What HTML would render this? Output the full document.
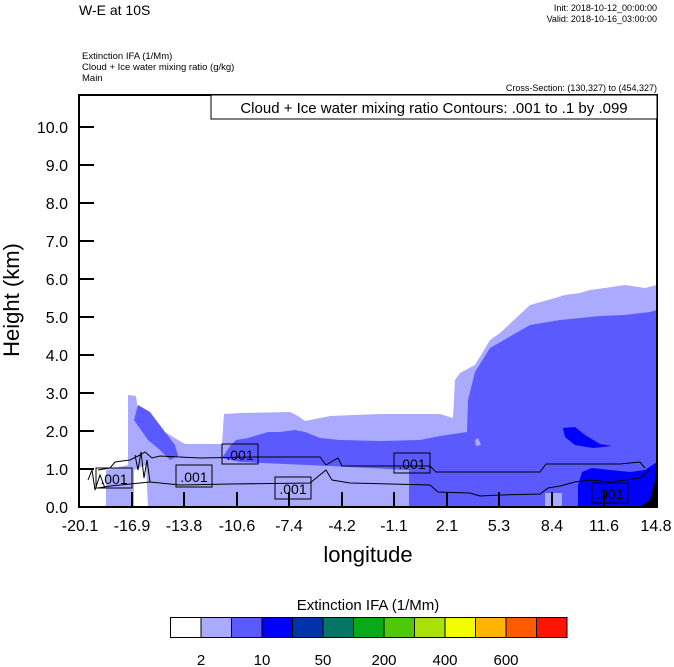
<!DOCTYPE html>
<html><head><style>
body{margin:0;background:#fff;}
svg{display:block;font-family:"Liberation Sans",sans-serif;}
</style></head><body>
<svg width="674" height="667" viewBox="0 0 674 667" xmlns="http://www.w3.org/2000/svg">
<text x="79" y="15" font-size="14">W-E at 10S</text>
<text x="657" y="11" font-size="9" text-anchor="end">Init: 2018-10-12_00:00:00</text>
<text x="657" y="22" font-size="9" text-anchor="end">Valid: 2018-10-16_03:00:00</text>
<text x="82" y="59" font-size="9.5">Extinction IFA   (1/Mm)</text>
<text x="82" y="70" font-size="9.5">Cloud + Ice water mixing ratio   (g/kg)</text>
<text x="82" y="81" font-size="9.5">Main</text>
<text x="657" y="91" font-size="9" text-anchor="end">Cross-Section: (130,327) to (454,327)</text>

<path fill="#aaaaff" d="M106,507 L106,470 L128,465 L128,395 L136,396 L138,410 L150,425 L165,432 L178,440 L185,444 L222,444 L224,414 L240,413 L290,412 L298,416 L305,421 L330,416 L380,414 L440,414 L453,418 L455,380 L460,373 L475,365 L490,340 L500,333 L530,305 L548,300 L565,295 L580,293 L590,290 L605,288 L625,285 L645,288 L657,285 L657,507 Z"/>
<path fill="#fff" d="M134,507 L134,470 L146,465 L148,507 Z"/>
<path fill="#5a5aff" d="M134,420 L138,405 L150,412 L162,428 L175,445 L178,456 L170,460 L160,450 L148,440 Z"/>
<path fill="#5a5aff" d="M222,458 L230,446 L236,440 L248,438 L268,432 L280,432 L295,430 L305,432 L320,438 L340,440 L380,441 L420,440 L440,436 L467,432 L468,400 L475,372 L490,348 L530,325 L560,320 L600,316 L625,315 L650,312 L657,310 L657,507 L409,507 L409,470 L330,466 L240,462 Z"/>
<path fill="#aaaaff" d="M475,440 L478,438 L481,445 L476,446 Z"/>
<rect x="545" y="493" width="17" height="14" fill="#aaaaff"/>
<path fill="#0000ff" d="M563,428 L575,427 L585,435 L600,444 L612,446 L593,448 L575,445 L565,437 Z"/>
<path fill="#0000ff" d="M578,485 L582,472 L592,468 L610,470 L630,472 L645,470 L657,462 L657,507 L578,507 Z"/>
<path fill="#000" d="M640,507 L650,500 L655,480 L657,470 L657,507 Z"/>
<g fill="none" stroke="#000" stroke-width="1">
<path d="M98,470 L110,468 L115,462 L130,460 L140,455 L145,452 L152,458 L160,456 L200,458 L255,457 L320,457 L326,465 L338,458 L342,466 L430,466 L436,472 L540,472 L546,464 L620,464 L640,462 L645,468"/>
<path d="M98,488 L110,486 L130,484 L150,482 L180,485 L230,484 L310,483 L326,470 L332,480 L350,483 L430,485 L438,492 L470,493 L480,496 L500,495 L540,494 L548,488 L560,486 L575,482 L590,480 L610,482 L640,478 L650,470"/>
<path d="M88,480 L92,470 L95,490 L100,475 L105,488 M135,455 L138,470 L141,452 L144,478 L147,460 L150,482"/>
</g>
<g font-size="14" text-anchor="middle">
<rect x="96" y="468" width="36" height="20" fill="none" stroke="#000"/><text x="114" y="484">.001</text>
<rect x="176" y="465" width="36" height="22" fill="none" stroke="#000"/><text x="194" y="482">.001</text>
<rect x="222" y="444" width="36" height="20" fill="none" stroke="#000"/><text x="240" y="460">.001</text>
<rect x="275" y="477" width="36" height="22" fill="none" stroke="#000"/><text x="293" y="494">.001</text>
<rect x="394" y="453" width="36" height="20" fill="none" stroke="#000"/><text x="412" y="469">.001</text>
<rect x="592" y="483" width="36" height="20" fill="none" stroke="#000"/><text x="610" y="499">.001</text>
</g>
<rect x="79" y="95" width="578" height="412" fill="none" stroke="#000" stroke-width="2"/>
<rect x="211" y="95" width="446" height="24" fill="#fff" stroke="#000" stroke-width="1"/>
<text x="434" y="113" font-size="15" text-anchor="middle">Cloud + Ice water mixing ratio Contours: .001 to .1 by .099</text>
<g stroke="#000" stroke-width="2">
<line x1="79" y1="507" x2="94" y2="507"/><line x1="79" y1="469" x2="94" y2="469"/><line x1="79" y1="431" x2="94" y2="431"/><line x1="79" y1="393" x2="94" y2="393"/><line x1="79" y1="355" x2="94" y2="355"/><line x1="79" y1="317" x2="94" y2="317"/><line x1="79" y1="279" x2="94" y2="279"/><line x1="79" y1="241" x2="94" y2="241"/><line x1="79" y1="203" x2="94" y2="203"/><line x1="79" y1="165" x2="94" y2="165"/><line x1="79" y1="127" x2="94" y2="127"/>
<line x1="132" y1="507" x2="132" y2="492"/><line x1="184" y1="507" x2="184" y2="492"/><line x1="237" y1="507" x2="237" y2="492"/><line x1="289" y1="507" x2="289" y2="492"/><line x1="342" y1="507" x2="342" y2="492"/><line x1="394" y1="507" x2="394" y2="492"/><line x1="447" y1="507" x2="447" y2="492"/><line x1="499" y1="507" x2="499" y2="492"/><line x1="552" y1="507" x2="552" y2="492"/><line x1="604" y1="507" x2="604" y2="492"/>
</g>
<g font-size="16" text-anchor="end">
<text x="68" y="513">0.0</text><text x="68" y="475">1.0</text><text x="68" y="437">2.0</text><text x="68" y="399">3.0</text><text x="68" y="361">4.0</text><text x="68" y="323">5.0</text><text x="68" y="285">6.0</text><text x="68" y="247">7.0</text><text x="68" y="209">8.0</text><text x="68" y="171">9.0</text><text x="68" y="133">10.0</text>
</g>
<g font-size="16" text-anchor="middle">
<text x="80" y="531">-20.1</text><text x="132" y="531">-16.9</text><text x="184" y="531">-13.8</text><text x="237" y="531">-10.6</text><text x="289" y="531">-7.4</text><text x="342" y="531">-4.2</text><text x="394" y="531">-1.1</text><text x="447" y="531">2.1</text><text x="499" y="531">5.3</text><text x="552" y="531">8.4</text><text x="604" y="531">11.6</text><text x="656" y="531">14.8</text>
</g>
<text x="368" y="562" font-size="22" text-anchor="middle">longitude</text>
<text x="0" y="0" font-size="22" text-anchor="middle" transform="translate(19,300) rotate(-90)">Height (km)</text>
<text x="368" y="610" font-size="15" text-anchor="middle">Extinction IFA  (1/Mm)</text>
<g stroke="#000" stroke-width="1">
<rect x="170.5" y="617.5" width="30.5" height="20" fill="#ffffff"/>
<rect x="201" y="617.5" width="30.5" height="20" fill="#aaaaff"/>
<rect x="231.5" y="617.5" width="30.5" height="20" fill="#5a5aff"/>
<rect x="262" y="617.5" width="30.5" height="20" fill="#0000ff"/>
<rect x="292.5" y="617.5" width="30.5" height="20" fill="#0033aa"/>
<rect x="323" y="617.5" width="30.5" height="20" fill="#067566"/>
<rect x="353.5" y="617.5" width="30.5" height="20" fill="#08aa18"/>
<rect x="384" y="617.5" width="30.5" height="20" fill="#50c80a"/>
<rect x="414.5" y="617.5" width="30.5" height="20" fill="#a8e008"/>
<rect x="445" y="617.5" width="30.5" height="20" fill="#f4fc00"/>
<rect x="475.5" y="617.5" width="30.5" height="20" fill="#ffb400"/>
<rect x="506" y="617.5" width="30.5" height="20" fill="#ff5a00"/>
<rect x="536.5" y="617.5" width="30.5" height="20" fill="#ff1400"/>
</g>
<g font-size="15" text-anchor="middle">
<text x="201" y="665">2</text><text x="262" y="665">10</text><text x="323" y="665">50</text><text x="384" y="665">200</text><text x="445" y="665">400</text><text x="506" y="665">600</text>
</g>
</svg>
</body></html>
